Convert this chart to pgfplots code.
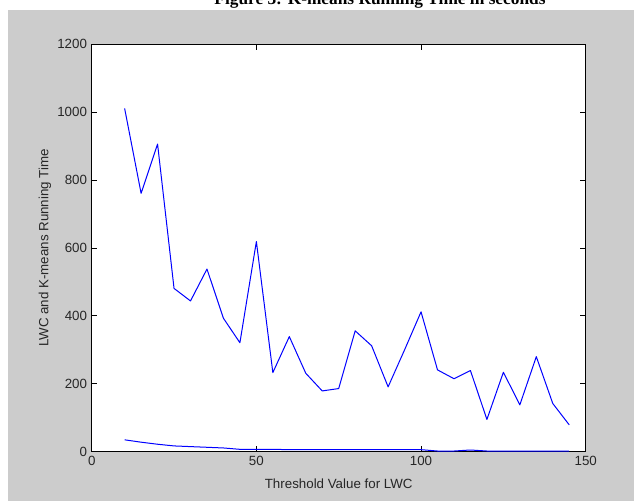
\documentclass[border=0pt]{standalone}
\usepackage{pgfplots}
\pgfplotsset{compat=1.18}
\usepackage{fontspec}
\setmainfont{Liberation Sans}
\newfontfamily\titlefont{Liberation Serif}
\definecolor{figgray}{HTML}{CCCCCC}
\begin{document}
\begin{tikzpicture}
\begin{scope}[x=0.75pt,y=0.75pt]
\useasboundingbox (0,0) rectangle (634,501);
\fill[figgray] (8,0) rectangle (634,491);
\node[font=\titlefont\bfseries\fontsize{13}{15}\selectfont, anchor=base, inner sep=0pt] at (380,496.5) {Figure 3: K-means Running Time in seconds};
\end{scope}
\begin{axis}[
  at={(68.78pt,36.98pt)}, anchor=origin,
  scale only axis, width=370.5pt, height=305.55pt,
  xmin=0, xmax=150, ymin=0, ymax=1200,
  xtick={0,50,100,150}, ytick={0,200,...,1200},
  tick align=inside, major tick length=4pt,
  axis background/.style={fill=white},
  axis line style={black, line width=0.8pt},
  tick style={black, line width=0.6pt},
  /pgf/number format/assume math mode=true,
  /pgf/number format/1000 sep={},
  ticklabel style={font=\fontsize{10}{12}\selectfont, text=black!85},
  label style={font=\fontsize{10}{12}\selectfont, text=black!85},
  xlabel={Threshold Value for LWC},
  ylabel={LWC and K-means Running Time},
  xlabel style={at={(axis description cs:0.5,-0.0792)}, anchor=center},
  ylabel style={at={(axis description cs:-0.0945,0.5)}, anchor=center},
]
\addplot[blue, line width=0.75pt, line join=round] coordinates {
(10,1011) (15,761) (20,906) (25,481) (30,444) (35,538) (40,393) (45,321)
(50,619) (55,233) (60,339) (65,231) (70,179) (75,186) (80,356) (85,312)
(90,191) (95,300) (100,412) (105,241) (110,215) (115,239) (120,95)
(125,234) (130,138) (135,280) (140,142) (145,79)
};
\addplot[blue, line width=0.75pt, line join=round] coordinates {
(10,35) (15,28) (20,22) (25,17) (30,15) (35,13) (40,11) (45,7)
(50,7) (55,7) (60,6) (65,6) (70,6) (75,6) (80,6) (85,6)
(90,6) (95,6) (100,6) (105,2) (110,2) (115,5) (120,2)
(125,2) (130,2) (135,2) (140,2) (145,2)
};
\end{axis}
\end{tikzpicture}
\end{document}
